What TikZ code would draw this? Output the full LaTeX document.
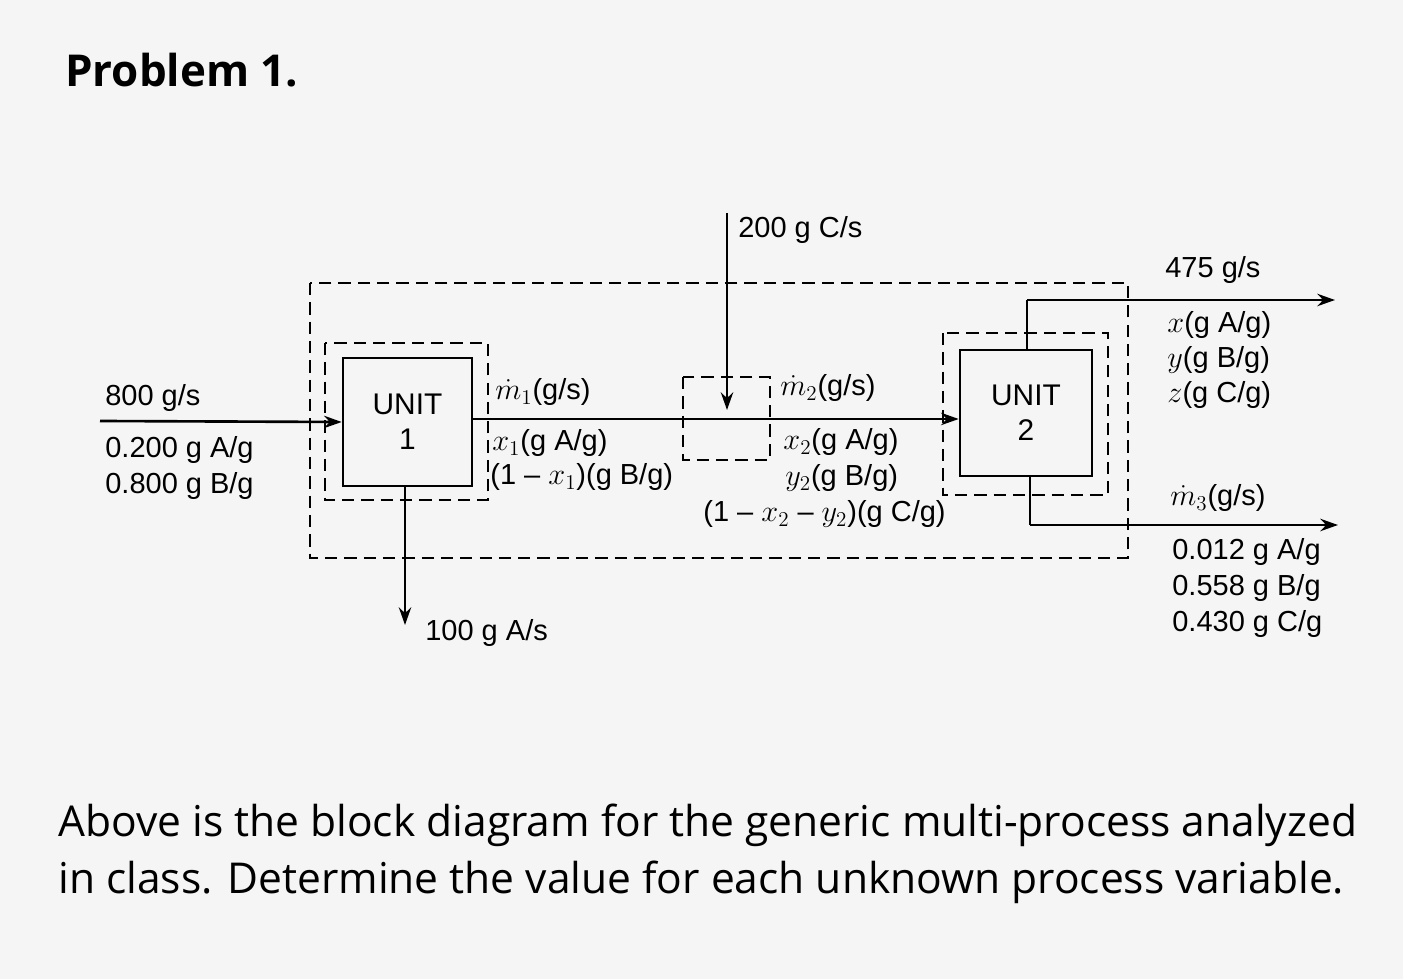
\documentclass[tikz,border=0pt]{standalone}
\usepackage{fontspec}
\setmainfont{Liberation Sans}
\newfontfamily\osans{Open Sans}
\usetikzlibrary{arrows.meta}
\begin{document}
\begin{tikzpicture}[x=0.02cm,y=-0.02cm,
  lab/.style={anchor=west,inner sep=0pt,font=\fontsize{16.5}{19}\selectfont},
  dbox/.style={draw,dashed,line width=1.1pt,dash pattern=on 7pt off 4pt},
  sbox/.style={draw,line width=1.5pt},
  flow/.style={line width=1.5pt,-{Stealth[length=10pt,width=7pt]}},
  line/.style={line width=1.5pt}]
\fill[gray!8] (0,0) rectangle (1403,979);
\useasboundingbox (0,0) rectangle (1403,979);
\node[anchor=west,inner sep=0pt,font=\osans\bfseries\fontsize{25}{29}\selectfont] (title) at (65,70) {Problem 1.};
% dashed boxes
\draw[dbox] (310,283) rectangle (1128,558);
\draw[dbox] (325,343) rectangle (488,500);
\draw[dbox] (683,377) rectangle (770,460);
\draw[dbox] (943,333) rectangle (1108,495);
% units
\node[sbox,minimum width=129*0.02cm,minimum height=128*0.02cm,align=center,font=\fontsize{17}{20}\selectfont] (u1) at (407.5,422) {UNIT\\1};
\node[sbox,minimum width=132*0.02cm,minimum height=126*0.02cm,align=center,font=\fontsize{17}{20}\selectfont] (u2) at (1026,413) {UNIT\\2};
% coordinates
\coordinate (in) at (100,421);
\coordinate (ctop) at (727,213);
\coordinate (cmix) at (727,410);
\coordinate (down) at (405,625);
\coordinate (o1a) at (1027,300);
\coordinate (o1) at (1335,300);
\coordinate (o2a) at (1030,525);
\coordinate (o2) at (1338,525);
% flows
\draw[flow] (in) -- (u1.west);
\draw[flow] (u1.east |- 0,419) -- (u2.west |- 0,419);
\draw[flow] (ctop) -- (cmix);
\draw[flow] (u1.south -| down) -- (down);
\draw[line] (u2.north -| o1a) -- (o1a);
\draw[flow] (o1a) -- (o1);
\draw[line] (u2.south -| o2a) -- (o2a);
\draw[flow] (o2a) -- (o2);
% labels
\node[lab] (l1) at (105,398) {800 g/s};
\node[lab] (l2) at (105,450) {0.200 g A/g};
\node[lab] (l3) at (105,486) {0.800 g B/g};
\node[lab] (l4) at (495,392) {$\dot m_1$(g/s)};
\node[lab] (l5) at (492,443) {$x_1$(g A/g)};
\node[lab] (l6) at (490,477) {(1 -- $x_1$)(g B/g)};
\node[lab] (l7) at (780,388) {$\dot m_2$(g/s)};
\node[lab] (l8) at (783,442) {$x_2$(g A/g)};
\node[lab] (l9) at (785,478) {$y_2$(g B/g)};
\node[lab] (l10) at (703,514) {(1 -- $x_2$ -- $y_2$)(g C/g)};
\node[lab] (l11) at (738,230) {200 g C/s};
\node[lab] (l12) at (1165,270) {475 g/s};
\node[lab] (l13) at (1167,325) {$x$(g A/g)};
\node[lab] (l14) at (1167,360) {$y$(g B/g)};
\node[lab] (l15) at (1167,395) {$z$(g C/g)};
\node[lab] (l16) at (1170,498) {$\dot m_3$(g/s)};
\node[lab] (l17) at (1172,552) {0.012 g A/g};
\node[lab] (l18) at (1172,588) {0.558 g B/g};
\node[lab] (l19) at (1172,624) {0.430 g C/g};
\node[lab] (l20) at (425,633) {100 g A/s};
\node[anchor=west,inner sep=0pt,font=\osans\fontsize{24.2}{28}\selectfont] (t1) at (58,825) {Above is the block diagram for the generic multi-process analyzed};
\node[anchor=west,inner sep=0pt,font=\osans\fontsize{24.2}{28}\selectfont] (t2) at (58,882) {in class. Determine the value for each unknown process variable.};
\end{tikzpicture}
\end{document}
